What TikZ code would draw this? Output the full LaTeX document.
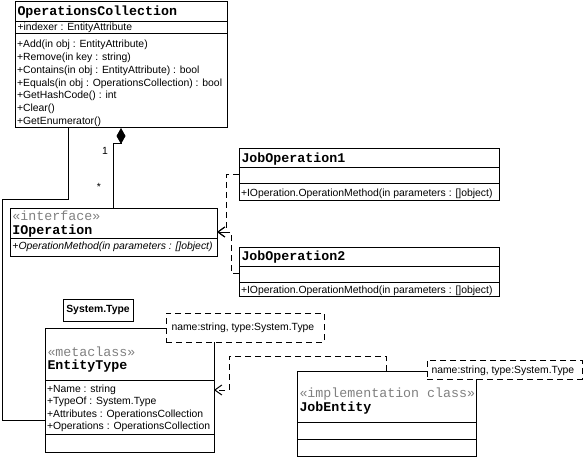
\documentclass[tikz,border=0pt]{standalone}
\usepackage{fontspec}
\setmainfont{Liberation Sans}
\newfontfamily\courfont{Liberation Mono}
\usetikzlibrary{arrows.meta}

\newcommand{\memfont}{\fontsize{10.4}{12.7}\selectfont}
\newcommand{\namefont}{\courfont\bfseries\fontsize{13.3}{14}\selectfont}
\newcommand{\sterfont}{\courfont\fontsize{13.3}{14}\selectfont}

\tikzset{
  umlbox/.style={draw, rectangle, anchor=north west, inner sep=0pt, outer sep=0pt},
  tmplbox/.style={umlbox, fill=white, dash pattern=on 6pt off 4pt},
  memb/.style={anchor=base west, inner sep=0pt, font=\memfont},
  cname/.style={anchor=base west, inner sep=0pt, font=\namefont},
  stereo/.style={anchor=base west, inner sep=0pt, font=\sterfont, text=gray},
  realize/.style={dash pattern=on 6pt off 4pt, -{Straight Barb[length=7pt,width=10pt]}},
}

\begin{document}
\begin{tikzpicture}[x=1pt,y=-1pt,line width=1pt]
\useasboundingbox (0,0) rectangle (586,457);

% OperationsCollection
\node[umlbox, minimum width=212pt, minimum height=126pt] (opc) at (15,2) {};
\draw (opc.west |- 0,22) -- (opc.east |- 0,22);
\draw (opc.west |- 0,34) -- (opc.east |- 0,34);
\node[cname] (opcn) at (17,16) {OperationsCollection};
\node[memb] (opca) at (17,30.5) {+indexer : EntityAttribute};
\foreach \txt [count=\i from 0] in {{+Add(in obj : EntityAttribute)},{+Remove(in key : string)},
  {+Contains(in obj : EntityAttribute) : bool},{+Equals(in obj : OperationsCollection) : bool},
  {+GetHashCode() : int},{+Clear()},{+GetEnumerator()}}
  \node[memb] (opcm\i) at (16.5,{48+12.7*\i}) {\txt};

% IOperation
\node[umlbox, minimum width=207pt, minimum height=47pt] (iop) at (10,209) {};
\draw (iop.west |- 0,238) -- (iop.east |- 0,238);
\node[stereo] (iops) at (12,220) {«interface»};
\node[cname] (iopn) at (12,234) {IOperation};
\node[memb, font=\memfont\itshape] (iopm) at (12,249.5) {+OperationMethod(in parameters : []object)};

% JobOperation1 / JobOperation2
\node[umlbox, minimum width=260pt, minimum height=52pt] (jo1) at (239,149) {};
\draw (jo1.west |- 0,168) -- (jo1.east |- 0,168);
\draw (jo1.west |- 0,184) -- (jo1.east |- 0,184);
\node[cname] (jo1n) at (241,162.5) {JobOperation1};
\node[memb] (jo1m) at (240.5,196.4) {+IOperation.OperationMethod(in parameters : []object)};

\node[umlbox, minimum width=260pt, minimum height=49pt] (jo2) at (239,247) {};
\draw (jo2.west |- 0,266) -- (jo2.east |- 0,266);
\draw (jo2.west |- 0,282) -- (jo2.east |- 0,282);
\node[cname] (jo2n) at (241,260.5) {JobOperation2};
\node[memb] (jo2m) at (240.5,293.4) {+IOperation.OperationMethod(in parameters : []object)};

% System.Type
\node[umlbox, font=\memfont\bfseries, minimum width=70pt, minimum height=22pt] (systype) at (63,299) {System.Type};

% EntityType
\node[umlbox, minimum width=169pt, minimum height=124pt] (ent) at (45,328) {};
\draw (ent.west |- 0,380) -- (ent.east |- 0,380);
\draw (ent.west |- 0,434) -- (ent.east |- 0,434);
\node[stereo] (ents) at (47,356) {«metaclass»};
\node[cname] (entn) at (47,369) {EntityType};
\foreach \txt [count=\i from 0] in {{+Name : string},{+TypeOf : System.Type},
  {+Attributes : OperationsCollection},{+Operations : OperationsCollection}}
  \node[memb] (entm\i) at (46.5,{392+12.6*\i}) {\txt};
\node[tmplbox, minimum width=158pt, minimum height=29pt] (entt) at (166,313) {};
\node[memb] (enttt) at (171,330.4) {name:string, type:System.Type};

% JobEntity
\node[umlbox, minimum width=179pt, minimum height=85pt] (jent) at (297,371) {};
\draw (jent.west |- 0,422) -- (jent.east |- 0,422);
\draw (jent.west |- 0,439) -- (jent.east |- 0,439);
\node[stereo] (jents) at (299,397) {«implementation class»};
\node[cname] (jentn) at (299,411.7) {JobEntity};
\node[tmplbox, minimum width=155pt, minimum height=19pt] (jentt) at (427,360) {};
\node[memb] (jenttt) at (431,373.7) {name:string, type:System.Type};

% connectors
\coordinate (iopR) at ([yshift=-23pt]iop.north east);
\draw ([xshift=53pt]opc.south west) |- (2,200) |- ([yshift=-30pt]ent.west);
\draw[-{Diamond[length=16pt,width=9pt]}] ([xshift=103pt]iop.north west)
  |- ([xshift=106pt,yshift=-16pt]opc.south west) -- ([xshift=106pt]opc.south west);
\node[memb, anchor=base] (mone) at (105,155) {1};
\node[memb, anchor=base] (mstar) at (99,191) {*};
\draw[realize] ([yshift=-26pt]jo1.north west) -| ([xshift=9pt]iopR) -- (iopR);
\draw[realize] ([yshift=-26pt]jo2.north west) -| ([xshift=14pt]iopR) -- (iopR);
\draw[realize] ([xshift=89pt]jent.north west) -- ++(0,-15) -| ([xshift=15pt]ent.east) -- (ent.east);
\end{tikzpicture}
\end{document}
